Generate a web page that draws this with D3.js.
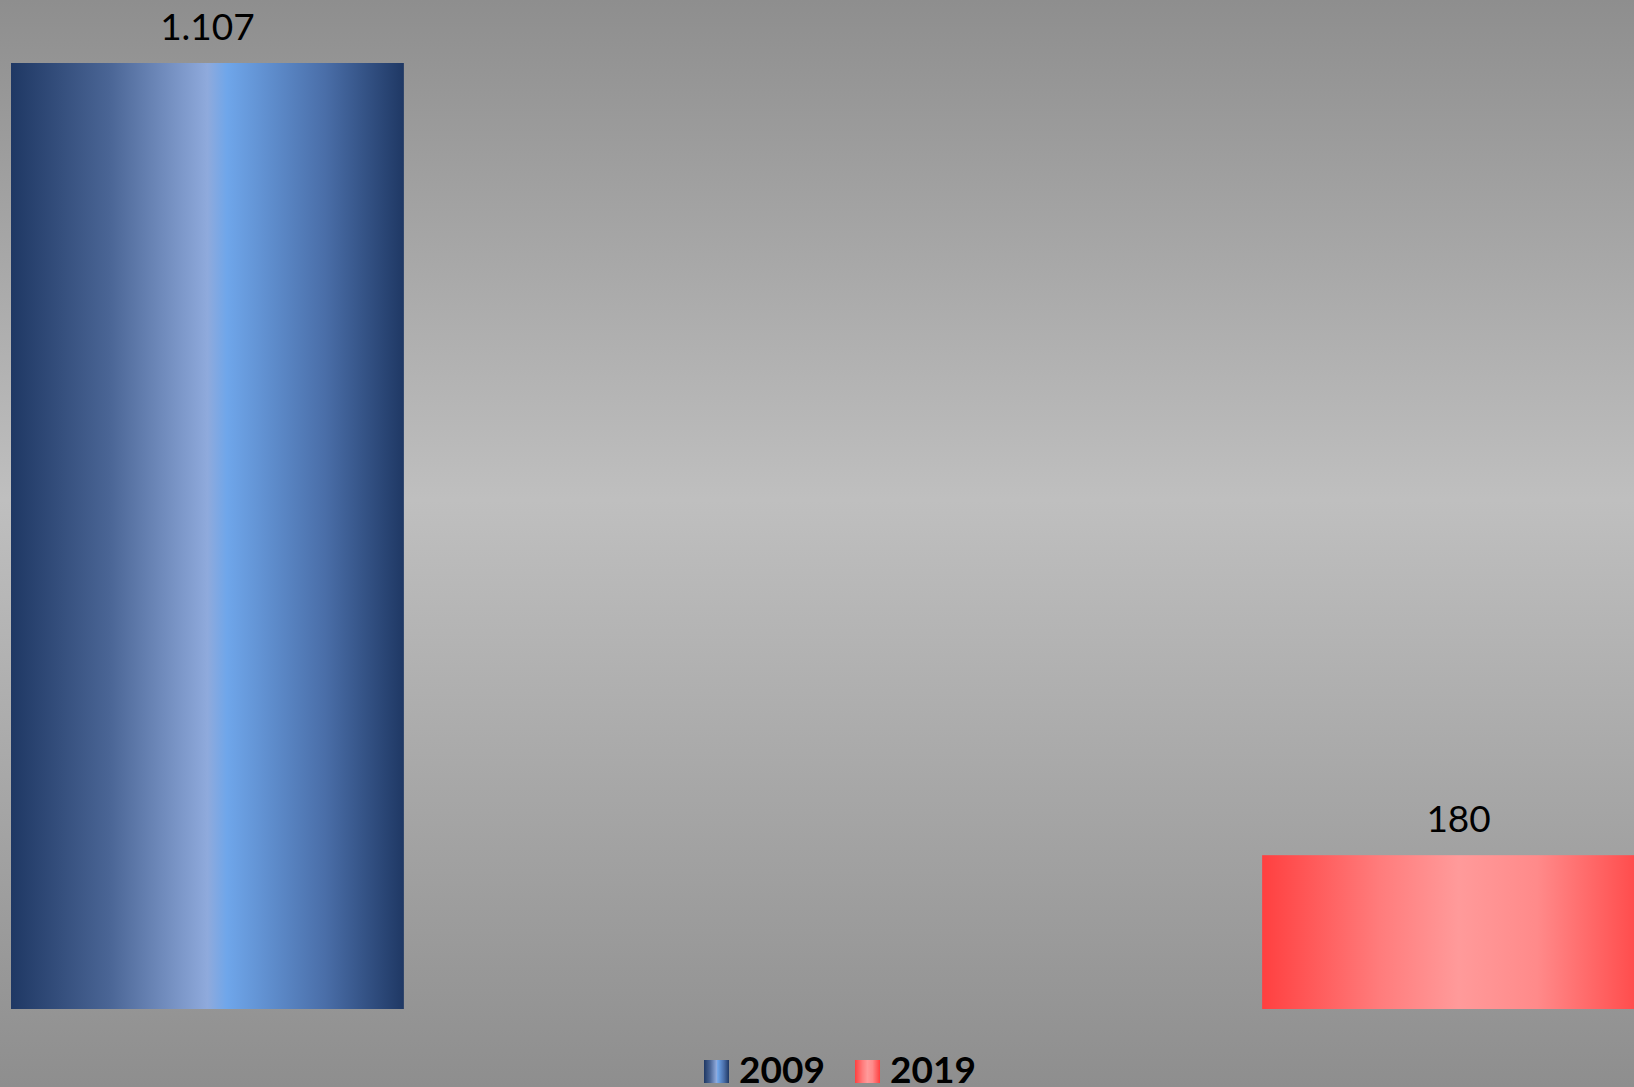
<!DOCTYPE html>
<html>
<head>
<meta charset="utf-8">
<script src="https://cdn.jsdelivr.net/npm/d3@7"></script>
<style>
  html, body { margin: 0; padding: 0; overflow: hidden; }
  svg { display: block; }
</style>
</head>
<body>
<svg id="chart"></svg>
<script>
const WIDTH = 1634, HEIGHT = 1087;

// data
const years = ["2009", "2019"];
const values = [1107, 180];
const valueLabels = ["1.107", "180"];

const gradients = {
  "2009": [
    [0, "#1f3864"], [0.25, "#4a6595"], [0.5, "#8faadc"], [0.55, "#6fa6ea"], [0.8, "#4a6ea8"], [1, "#1f3864"]
  ],
  "2019": [
    [0, "#ff4040"], [0.3, "#ff7c7c"], [0.5, "#ff9a9a"], [0.7, "#ff8a8a"], [1, "#ff4040"]
  ]
};

const svg = d3.select("#chart").attr("width", WIDTH).attr("height", HEIGHT);
const defs = svg.append("defs");

// background
const bg = defs.append("linearGradient").attr("id", "bg")
  .attr("x1", 0).attr("y1", 0).attr("x2", 0).attr("y2", 1);
bg.append("stop").attr("offset", 0).attr("stop-color", "#8e8e8e");
bg.append("stop").attr("offset", 0.46).attr("stop-color", "#bfbfbf");
bg.append("stop").attr("offset", 1).attr("stop-color", "#8e8e8e");
svg.append("rect").attr("width", WIDTH).attr("height", HEIGHT).attr("fill", "url(#bg)");

years.forEach(y => {
  const g = defs.append("linearGradient").attr("id", "g" + y)
    .attr("x1", 0).attr("y1", 0).attr("x2", 1).attr("y2", 0);
  gradients[y].forEach(s => g.append("stop").attr("offset", s[0]).attr("stop-color", s[1]));
});

const x = d3.scaleBand().domain(years).range([11, 1655]).paddingInner(0.686).paddingOuter(0);
const yScale = d3.scaleLinear().domain([0, 1107]).range([1009, 63]);

svg.selectAll("rect.bar")
  .data(years)
  .enter()
  .append("rect")
  .attr("class", "bar")
  .attr("x", d => x(d))
  .attr("width", x.bandwidth())
  .attr("y", (d, i) => yScale(values[i]))
  .attr("height", (d, i) => yScale(0) - yScale(values[i]))
  .attr("fill", d => `url(#g${d})`);

svg.selectAll("text.val")
  .data(years)
  .enter()
  .append("text")
  .attr("class", "val")
  .attr("x", d => x(d) + x.bandwidth() / 2)
  .attr("y", (d, i) => yScale(values[i]) - 23)
  .attr("text-anchor", "middle")
  .style("font-family", "Lato, 'Open Sans', sans-serif")
  .style("font-size", "37px")
  .style("fill", "#000")
  .text((d, i) => valueLabels[i]);

// legend
const legend = svg.append("g").attr("transform", "translate(704,1060)");
const items = legend.selectAll("g")
  .data(years)
  .enter()
  .append("g")
  .attr("transform", (d, i) => `translate(${i * 151},0)`);
items.append("rect")
  .attr("width", 25).attr("height", 23)
  .attr("fill", d => `url(#g${d})`);
items.append("text")
  .attr("x", 35).attr("y", 23)
  .style("font-family", "Lato, 'Open Sans', sans-serif")
  .style("font-size", "37px")
  .style("font-weight", "bold")
  .style("fill", "#000")
  .text(d => d);
</script>
</body>
</html>
